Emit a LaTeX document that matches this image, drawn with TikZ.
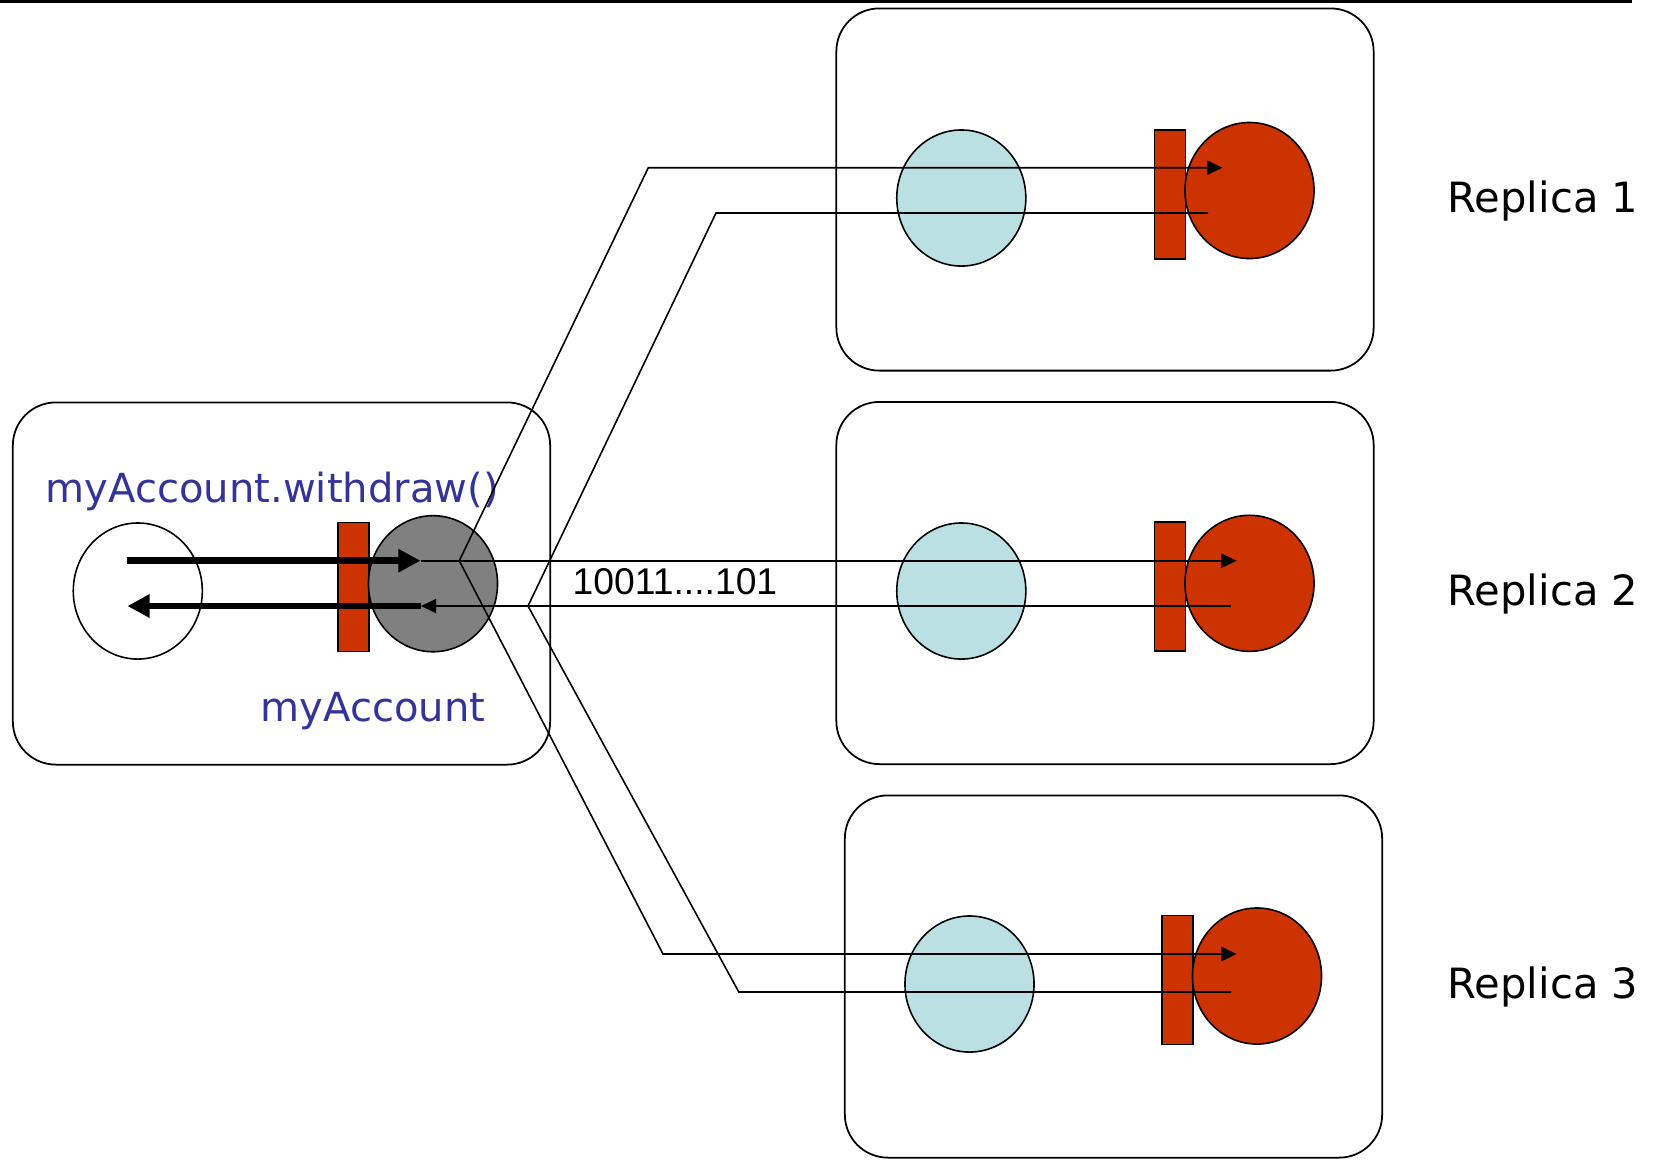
\documentclass[tikz,border=0pt]{standalone}
\usepackage{fontspec}
\setmainfont{DejaVu Sans}
\newfontfamily\bitsfont{Liberation Sans}
\usetikzlibrary{arrows.meta,shapes.geometric}

\definecolor{brick}{RGB}{204,51,0}
\definecolor{paleblue}{RGB}{187,224,227}
\definecolor{midgray}{RGB}{128,128,128}
\definecolor{labelblue}{RGB}{51,51,153}

\tikzset{
  hostbox/.style={draw, line width=0.5pt, rounded corners=0.43cm,
    inner sep=0pt, outer sep=0pt, minimum width=5.37cm, minimum height=3.62cm},
  obj/.style={ellipse, draw, line width=0.45pt, inner sep=0pt, outer sep=0pt,
    minimum width=1.29cm, minimum height=1.36cm},
  proxy/.style={obj, fill=midgray},
  stubobj/.style={obj, fill=paleblue},
  servant/.style={obj, fill=brick},
  skel/.style={rectangle, draw, line width=0.45pt, fill=brick, inner sep=0pt,
    outer sep=0pt, minimum width=0.31cm, minimum height=1.29cm},
  wire/.style={line width=0.45pt},
  wirearrow/.style={wire, -{Triangle[length=4.3pt,width=4pt]}},
  callarrow/.style={line width=1.9pt, -{Triangle[length=6.3pt,width=6.3pt]}},
  lbl/.style={inner sep=0pt, anchor=base west, font=\fontsize{11.4pt}{13pt}\selectfont},
  replbl/.style={lbl, font=\fontsize{11.85pt}{14pt}\selectfont},
  bluelbl/.style={lbl, text=labelblue},
}

\begin{document}
\begin{tikzpicture}[x=0.01cm, y=-0.01cm]
\useasboundingbox (0,0) rectangle (1660,1159);

% rule across the top
\coordinate (ruleL) at (0,1.5);
\coordinate (ruleR) at (1632,1.5);
\draw[line width=0.6pt] (ruleL) -- (ruleR);

% host and replica containers
\node[hostbox] (host) at (281.5,583.5) {};
\node[hostbox] (rep1) at (1105,189.5) {};
\node[hostbox] (rep2) at (1105,583) {};
\node[hostbox] (rep3) at (1113.5,976.5) {};

% client side
\node[obj, fill=white] (client) at (137.8,591) {};
\node[skel] (pskel) at (353.5,587) {};
\node[proxy] (proxy) at (433,583.7) {};

% replicas
\node[stubobj] (blue1) at (961.3,198) {};
\node[skel] (skel1) at (1170,194.5) {};
\node[servant] (red1) at (1249.5,190.5) {};

\node[stubobj] (blue2) at (961.3,591) {};
\node[skel] (skel2) at (1170,586.5) {};
\node[servant] (red2) at (1249.5,583.3) {};

\node[stubobj] (blue3) at (969.5,984) {};
\node[skel] (skel3) at (1177.5,980) {};
\node[servant] (red3) at (1257,976) {};

% labels
\node[bluelbl] (call) at (45,502) {myAccount.withdraw()};
\node[bluelbl] (accname) at (260,721) {myAccount};
\node[replbl] (r1) at (1447,212) {Replica 1};
\node[replbl] (r2) at (1447,605) {Replica 2};
\node[replbl] (r3) at (1447,998) {Replica 3};
\node[inner sep=0pt, anchor=base west, font=\bitsfont\fontsize{10.6pt}{12pt}\selectfont] (bits) at (572,594) {10011....101};

% routing points of the wires
\coordinate (callS) at (126.7,560.7);
\coordinate (callE) at (420.5,560.7);
\coordinate (fork) at (459.3,560.7);
\coordinate (up1) at (648.3,167.7);
\coordinate (dn3) at (663,954);
\coordinate (tip1) at (1222.5,167.7);
\coordinate (tip2) at (1236.6,560.7);
\coordinate (tip3) at (1236.6,954);

\coordinate (retS1) at (1208,213);
\coordinate (retC1) at (716,213);
\coordinate (retS2) at (1231,606);
\coordinate (retS3) at (1231,992);
\coordinate (retC3) at (738.8,992);
\coordinate (join) at (528,606);
\coordinate (retE) at (421,606);
\coordinate (backS) at (421,606);
\coordinate (backE) at (127.4,606);

% invocation sent out to the replicas
\draw[callarrow] (callS) -- (callE);
\draw[wirearrow] (callE) -- (tip2);
\draw[wirearrow] (fork) -- (up1) -- (tip1);
\draw[wirearrow] (fork) -- (dn3) -- (tip3);

% replies returning to the proxy
\draw[wire] (retS1) -- (retC1) -- (join);
\draw[wire] (retS3) -- (retC3) -- (join);
\draw[wirearrow] (retS2) -- (retE);
\draw[callarrow] (backS) -- (backE);

\end{tikzpicture}
\end{document}
